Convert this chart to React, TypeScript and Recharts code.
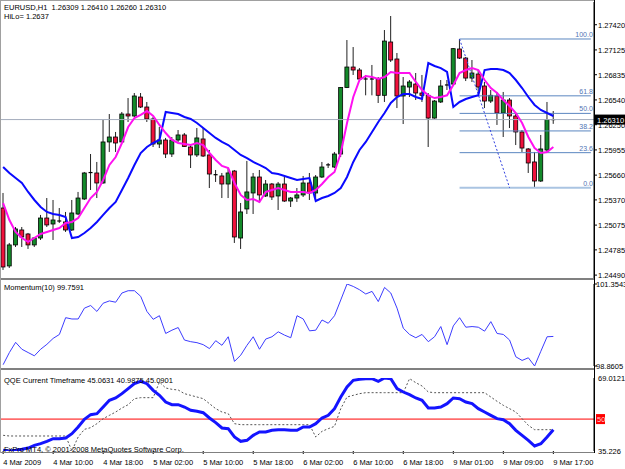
import React from 'react';
import { ComposedChart, Bar, Line, XAxis, YAxis, ReferenceLine } from 'recharts';

const FONT = '"Liberation Sans", Arial, sans-serif';

// time labels, one every 8 bars
const timeLabels = ['4 Mar 2009', '4 Mar 10:00', '4 Mar 18:00', '5 Mar 02:00', '5 Mar 10:00', '5 Mar 18:00', '6 Mar 02:00', '6 Mar 10:00', '6 Mar 18:00', '9 Mar 01:00', '9 Mar 09:00', '9 Mar 17:00'];

// EURUSD H1 candles
const opens = [1.25275, 1.24597, 1.24843, 1.25018, 1.24971, 1.24843, 1.24924, 1.25158, 1.25088, 1.25123, 1.25112, 1.25018, 1.25205, 1.25381, 1.25685, 1.25685, 1.25568, 1.26048, 1.26106, 1.26048, 1.26375, 1.26352, 1.26574, 1.26457, 1.26317, 1.26024, 1.26071, 1.25907, 1.26071, 1.26130, 1.25989, 1.25896, 1.26083, 1.25896, 1.25665, 1.25650, 1.25556, 1.25708, 1.24924, 1.25264, 1.25451, 1.25638, 1.25416, 1.25556, 1.25416, 1.25556, 1.25357, 1.25392, 1.25428, 1.25568, 1.25451, 1.25638, 1.25775, 1.25755, 1.25907, 1.26685, 1.26925, 1.26890, 1.26785, 1.26780, 1.26785, 1.26594, 1.27218, 1.27019, 1.26586, 1.26691, 1.26726, 1.26621, 1.26594, 1.26328, 1.26516, 1.26703, 1.26726, 1.27136, 1.27030, 1.26796, 1.26843, 1.26703, 1.26527, 1.26586, 1.26387, 1.26539, 1.26352, 1.26165, 1.25966, 1.25814, 1.25591, 1.25954, 1.26309];
const highs = [1.25451, 1.24866, 1.25053, 1.25053, 1.24983, 1.24936, 1.25194, 1.25392, 1.25369, 1.25275, 1.25229, 1.25369, 1.25463, 1.25697, 1.25907, 1.25814, 1.26305, 1.26375, 1.26165, 1.26399, 1.26562, 1.26621, 1.26621, 1.26516, 1.26340, 1.26223, 1.26095, 1.26106, 1.26188, 1.26153, 1.26012, 1.26211, 1.26211, 1.25954, 1.25720, 1.25685, 1.25743, 1.25720, 1.25334, 1.25826, 1.25685, 1.25720, 1.25603, 1.25568, 1.25580, 1.25638, 1.25404, 1.25509, 1.25650, 1.25685, 1.25661, 1.25814, 1.25802, 1.25931, 1.26691, 1.27241, 1.27159, 1.26913, 1.26832, 1.26949, 1.26808, 1.27358, 1.27522, 1.27089, 1.26808, 1.26773, 1.26855, 1.26832, 1.26621, 1.26539, 1.26773, 1.26773, 1.27147, 1.27253, 1.27042, 1.27007, 1.26890, 1.26750, 1.26656, 1.26633, 1.26633, 1.26562, 1.26375, 1.26188, 1.25977, 1.25931, 1.26130, 1.26516, 1.26410];
const lows = [1.24550, 1.24573, 1.24819, 1.24819, 1.24796, 1.24819, 1.24901, 1.25053, 1.24901, 1.25100, 1.24995, 1.25006, 1.25194, 1.25369, 1.25486, 1.25392, 1.25560, 1.25931, 1.25931, 1.26036, 1.26282, 1.26340, 1.26445, 1.26282, 1.25989, 1.25977, 1.25860, 1.25872, 1.26048, 1.25989, 1.25743, 1.25872, 1.25872, 1.25509, 1.25580, 1.25392, 1.25392, 1.24866, 1.24796, 1.25205, 1.25205, 1.25334, 1.25404, 1.25369, 1.25252, 1.25346, 1.25287, 1.25346, 1.25404, 1.25369, 1.25369, 1.25626, 1.25743, 1.25743, 1.25872, 1.26679, 1.26832, 1.26773, 1.26594, 1.26594, 1.26504, 1.26516, 1.26984, 1.26445, 1.26258, 1.26574, 1.26539, 1.26516, 1.25989, 1.26320, 1.26504, 1.26656, 1.26715, 1.27019, 1.26761, 1.26750, 1.26633, 1.26445, 1.26504, 1.26247, 1.26106, 1.26211, 1.26012, 1.25931, 1.25685, 1.25512, 1.25580, 1.25931, 1.26260];
const closes = [1.24585, 1.24843, 1.25030, 1.24936, 1.24843, 1.24924, 1.25158, 1.25077, 1.25135, 1.25120, 1.25018, 1.25217, 1.25392, 1.25685, 1.25690, 1.25568, 1.26048, 1.26106, 1.26036, 1.26375, 1.26352, 1.26586, 1.26457, 1.26317, 1.26024, 1.26071, 1.25907, 1.26071, 1.26130, 1.25995, 1.25896, 1.26095, 1.25884, 1.25673, 1.25660, 1.25556, 1.25685, 1.24936, 1.25229, 1.25463, 1.25638, 1.25428, 1.25556, 1.25404, 1.25556, 1.25357, 1.25392, 1.25428, 1.25568, 1.25451, 1.25638, 1.25755, 1.25780, 1.25907, 1.26685, 1.26925, 1.26890, 1.26785, 1.26780, 1.26785, 1.26594, 1.27229, 1.27007, 1.26586, 1.26703, 1.26750, 1.26621, 1.26594, 1.26328, 1.26527, 1.26703, 1.26715, 1.27140, 1.27030, 1.26796, 1.26855, 1.26691, 1.26527, 1.26594, 1.26387, 1.26539, 1.26352, 1.26165, 1.25977, 1.25802, 1.25591, 1.25966, 1.26309, 1.26310];

// magenta moving average
const maLine = [1.25334, 1.25135, 1.24995, 1.24924, 1.24878, 1.24924, 1.24971, 1.24995, 1.25018, 1.25041, 1.25100, 1.25112, 1.25158, 1.25275, 1.25392, 1.25463, 1.25603, 1.25779, 1.25872, 1.26036, 1.26223, 1.26328, 1.26364, 1.26410, 1.26352, 1.26247, 1.26153, 1.26071, 1.26036, 1.26024, 1.26012, 1.26036, 1.26012, 1.25919, 1.25837, 1.25767, 1.25743, 1.25568, 1.25428, 1.25369, 1.25381, 1.25346, 1.25463, 1.25486, 1.25509, 1.25486, 1.25463, 1.25463, 1.25463, 1.25451, 1.25486, 1.25556, 1.25638, 1.25697, 1.25919, 1.26270, 1.26574, 1.26773, 1.26820, 1.26808, 1.26785, 1.26808, 1.26867, 1.26855, 1.26855, 1.26855, 1.26750, 1.26656, 1.26594, 1.26562, 1.26574, 1.26594, 1.26715, 1.26855, 1.26890, 1.26913, 1.26890, 1.26773, 1.26679, 1.26621, 1.26539, 1.26469, 1.26387, 1.26270, 1.26106, 1.25977, 1.25919, 1.25931, 1.25989];

// blue HiLo activator
const hiloLine = [1.25755, 1.25685, 1.25626, 1.25568, 1.25463, 1.25369, 1.25287, 1.25229, 1.25205, 1.25194, 1.25170, 1.24924, 1.24936, 1.24983, 1.25041, 1.25112, 1.25194, 1.25275, 1.25346, 1.25486, 1.25626, 1.25779, 1.25919, 1.25989, 1.26036, 1.26071, 1.26399, 1.26387, 1.26375, 1.26340, 1.26317, 1.26270, 1.26211, 1.26153, 1.26095, 1.26048, 1.26012, 1.25954, 1.25896, 1.25860, 1.25814, 1.25779, 1.25743, 1.25685, 1.25673, 1.25650, 1.25626, 1.25603, 1.25615, 1.25626, 1.25357, 1.25392, 1.25416, 1.25451, 1.25509, 1.25638, 1.25814, 1.25954, 1.26048, 1.26165, 1.26282, 1.26387, 1.26504, 1.26574, 1.26609, 1.26609, 1.26574, 1.26551, 1.26972, 1.26937, 1.26913, 1.26867, 1.26457, 1.26516, 1.26551, 1.26574, 1.26594, 1.26890, 1.26902, 1.26902, 1.26890, 1.26855, 1.26773, 1.26679, 1.26574, 1.26481, 1.26422, 1.26387, 1.26352];

// Momentum(10)
const momentum = [98.90, 99.27, 99.58, 99.37, 99.27, 99.17, 99.37, 99.52, 99.70, 99.82, 100.33, 100.29, 100.29, 100.62, 100.70, 100.52, 100.77, 100.84, 100.80, 101.08, 101.15, 101.15, 100.98, 100.52, 100.28, 100.39, 99.85, 99.95, 100.03, 99.65, 99.60, 99.57, 99.51, 99.39, 99.63, 99.49, 99.75, 99.00, 99.19, 99.49, 99.75, 99.37, 99.68, 99.75, 99.90, 99.80, 99.72, 100.39, 100.29, 99.93, 99.95, 100.26, 100.16, 100.39, 100.87, 101.3543, 101.28, 101.18, 101.05, 101.13, 100.82, 101.25, 101.08, 100.62, 100.01, 99.82, 99.72, 99.82, 99.60, 99.75, 100.06, 99.51, 100.08, 100.33, 100.04, 100.06, 100.04, 99.92, 100.21, 99.85, 99.82, 99.65, 99.14, 99.03, 99.11, 98.8605, 99.31, 99.75, 99.7591];

// QQE
const qqeMain = [35.53, 35.226, 35.53, 36.00, 36.61, 37.85, 38.62, 39.70, 40.93, 40.93, 41.24, 43.25, 46.33, 49.88, 52.04, 52.50, 55.59, 58.67, 59.76, 61.76, 64.08, 66.39, 67.47, 66.39, 63.30, 60.99, 57.90, 56.67, 56.67, 55.59, 54.05, 53.58, 52.97, 50.50, 48.34, 45.87, 45.56, 41.70, 39.70, 40.16, 42.48, 44.02, 44.02, 44.79, 45.10, 45.10, 44.79, 44.79, 46.33, 46.33, 47.88, 50.50, 51.73, 54.82, 60.22, 64.85, 67.93, 68.39, 68.70, 68.70, 67.47, 69.0121, 68.70, 64.08, 62.53, 61.30, 59.76, 58.67, 55.13, 55.13, 55.59, 57.13, 59.76, 59.45, 57.90, 57.13, 54.82, 53.27, 51.73, 50.19, 49.73, 47.88, 44.79, 42.48, 40.16, 37.54, 38.62, 41.70, 45.06];
const qqeTrail = [42.48, 42.17, 42.17, 42.17, 42.17, 42.17, 42.17, 42.17, 42.17, 42.17, 42.17, 35.30, 41.70, 45.25, 46.03, 47.88, 50.19, 51.73, 53.27, 55.13, 56.67, 59.45, 59.91, 59.91, 59.91, 67.16, 64.38, 63.77, 63.46, 61.76, 60.99, 60.22, 59.45, 57.13, 54.82, 53.27, 52.50, 47.88, 47.41, 47.41, 47.41, 47.41, 47.41, 47.41, 47.41, 47.41, 47.41, 47.41, 47.41, 47.41, 41.70, 44.33, 45.56, 46.64, 54.82, 60.22, 60.99, 61.76, 62.22, 62.22, 62.22, 62.22, 62.22, 62.22, 62.22, 68.70, 66.85, 65.31, 62.53, 62.22, 62.22, 62.22, 62.22, 62.22, 62.22, 62.22, 62.22, 62.22, 60.22, 58.21, 56.36, 54.82, 53.27, 50.19, 47.10, 45.09, 45.09, 45.09, 45.09];

// axes
const priceTicks = [1.2742, 1.27125, 1.26835, 1.2654, 1.2625, 1.25955, 1.2566, 1.2537, 1.25075, 1.24785, 1.2449];
const priceDomain = [1.24456, 1.27686];
const momDomain = [98.8605, 101.3543];
const qqeDomain = [35.226, 69.0121];

// fibonacci
const fibLow = 1.25512;
const fibHigh = 1.27253;
const fibRatios = [100, 61.8, 50, 38.2, 23.6, 0];
const fibStartBar = 73;
const fibDiagEndBar = 81;

const totalSlots = 95;

const rows = Array.from({ length: totalSlots }, (_, i) => {
  if (i >= opens.length) return { i };
  return {
    i,
    open: opens[i],
    high: highs[i],
    low: lows[i],
    close: closes[i],
    range: [lows[i], highs[i]],
    ma: maLine[i],
    hilo: hiloLine[i],
    mom: momentum[i],
    qqe: qqeMain[i],
    trail: qqeTrail[i],
    fibDiag: i === fibStartBar ? fibHigh : i === fibDiagEndBar ? fibLow : null,
  };
});

const lastClose = closes[closes.length - 1];

const Candle = (props: any) => {
  const { x, y, width, height, payload } = props;
  if (!payload || payload.open == null) return null;
  const { open, close, high, low } = payload;
  const cx = x + width / 2;
  const span = high - low;
  const toY = (v: number) => (span === 0 ? y : y + ((high - v) / span) * height);
  const yo = toY(open);
  const yc = toY(close);
  const top = Math.min(yo, yc);
  const h = Math.abs(yc - yo);
  const up = close > open;
  return (
    <g>
      <line x1={cx} x2={cx} y1={y} y2={y + height} stroke="#222" strokeWidth={1} />
      {h < 1.2 ? (
        <line x1={cx - 2} x2={cx + 2} y1={top} y2={top} stroke="#000" strokeWidth={1.2} />
      ) : (
        <rect x={cx - 2} y={top} width={4} height={h} fill={up ? '#138a2a' : '#f0123c'} stroke="#000" strokeWidth={0.8} />
      )}
    </g>
  );
};

const RightTick = (props: any) => {
  const { x, y, payload, digits, gap = 4 } = props;
  return (
    <g>
      <line x1={x} x2={x + 3} y1={y} y2={y} stroke="#000" />
      <text x={x + gap} y={y + 3} fontSize={7.5} fontFamily={FONT} fill="#000">{payload.value.toFixed(digits)}</text>
    </g>
  );
};

const QqeTick = (props: any) => {
  const { x, y, payload } = props;
  if (payload.value === 50) {
    return (
      <g>
        <rect x={x + 2} y={y - 5} width={9} height={10} fill="#ff0000" />
        <text x={x + 3} y={y + 3} fontSize={7.5} fontFamily={FONT} fill="#ffd0d0">50</text>
      </g>
    );
  }
  const txt = payload.value === qqeDomain[1] ? '69.0121' : '35.226';
  return (
    <text x={x + 4} y={y + 3} fontSize={7.5} fontFamily={FONT} fill="#000">{txt}</text>
  );
};

const TimeTick = (props: any) => {
  const { x, y, payload } = props;
  const label = timeLabels[payload.value / 8];
  if (!label) return null;
  return (
    <g>
      <line x1={x} x2={x} y1={y} y2={y + 3} stroke="#000" />
      <text x={x} y={y + 14} fontSize={7.5} fontFamily={FONT} fill="#000">{label}</text>
    </g>
  );
};

const PriceBox = (props: any) => {
  const vb = props.viewBox || {};
  const x = vb.x + vb.width;
  return (
    <g>
      <rect x={x + 1} y={vb.y - 5} width={30} height={10} fill="#000" />
      <text x={x + 3} y={vb.y + 3} fontSize={7.5} fontFamily={FONT} fill="#fff">{lastClose.toFixed(5)}</text>
    </g>
  );
};

const fibLabel = (text: string) => (props: any) => {
  const vb = props.viewBox || {};
  return (
    <text x={vb.x + vb.width + 2} y={vb.y - 2} fontSize={7} fontFamily={FONT} fill="#4f74b4" textAnchor="end">{text}</text>
  );
};

const hline = (top: number, color: string, h = 1) => (
  <div style={{ position: 'absolute', left: 0, top, width: 595, height: h, background: color }} />
);

const textStyle: React.CSSProperties = { position: 'absolute', fontFamily: FONT, fontSize: 7.5, color: '#000', whiteSpace: 'pre', lineHeight: '9px' };

export default function App() {
  return (
    <div style={{ position: 'fixed', left: 0, top: 0, width: 625, height: 469, background: '#fff', overflow: 'hidden' }}>
      {/* main price pane */}
      <div style={{ position: 'absolute', left: 0, top: 0 }}>
        <ComposedChart width={625} height={279} data={rows} margin={{ top: 2, right: 0, bottom: 1, left: 0 }} barCategoryGap={0}>
          <XAxis dataKey="i" type="category" scale="band" hide />
          <YAxis orientation="right" width={31} type="number" domain={priceDomain} ticks={priceTicks} interval={0} allowDataOverflow
            tickSize={0} tickMargin={0} axisLine={{ stroke: '#000' }} tick={<RightTick digits={5} />} />
          <ReferenceLine y={lastClose} stroke="#a4acbc" label={<PriceBox />} />
          {fibRatios.map((r) => {
            const lvl = fibLow + (r / 100) * (fibHigh - fibLow);
            return (
              <ReferenceLine key={r} segment={[{ x: fibStartBar, y: lvl }, { x: totalSlots - 1, y: lvl }]}
                stroke={r === 0 ? '#aac4e2' : '#5b86c0'} strokeWidth={r === 0 ? 2 : 1} label={fibLabel(r.toFixed(1))} />
            );
          })}
          <Bar dataKey="range" shape={<Candle />} isAnimationActive={false} />
          <Line dataKey="fibDiag" connectNulls stroke="#3040e0" strokeDasharray="2 2" strokeWidth={1} dot={false} isAnimationActive={false} />
          <Line dataKey="hilo" type="linear" stroke="#0a0aff" strokeWidth={2} dot={false} isAnimationActive={false} />
          <Line dataKey="ma" type="linear" stroke="#ff10f0" strokeWidth={2} dot={false} isAnimationActive={false} />
        </ComposedChart>
      </div>

      {/* momentum pane */}
      <div style={{ position: 'absolute', left: 0, top: 280 }}>
        <ComposedChart width={625} height={92} data={rows} margin={{ top: 4, right: 0, bottom: 6, left: 0 }}>
          <XAxis dataKey="i" type="category" scale="band" hide />
          <YAxis orientation="right" width={31} type="number" domain={momDomain} ticks={[momDomain[1], momDomain[0]]} interval={0} allowDataOverflow
            tickSize={0} tickMargin={0} axisLine={{ stroke: '#000' }} tick={<RightTick digits={4} gap={2} />} />
          <Line dataKey="mom" type="linear" stroke="#3c3cff" strokeWidth={1} dot={false} isAnimationActive={false} />
        </ComposedChart>
      </div>

      {/* QQE pane */}
      <div style={{ position: 'absolute', left: 0, top: 370 }}>
        <ComposedChart width={625} height={99} data={rows} margin={{ top: 8, right: 0, bottom: 0, left: 0 }}>
          <XAxis dataKey="i" type="category" scale="band" height={18} interval={7} tickSize={0} tickMargin={0} axisLine={false} tick={<TimeTick />} />
          <YAxis orientation="right" width={31} type="number" domain={qqeDomain} ticks={[qqeDomain[0], 50, qqeDomain[1]]} interval={0} allowDataOverflow
            tickSize={0} tickMargin={0} axisLine={{ stroke: '#000' }} tick={<QqeTick />} />
          <ReferenceLine y={50} stroke="#ff0000" strokeWidth={1} />
          <Line dataKey="trail" type="linear" stroke="#555" strokeDasharray="2 2" strokeWidth={1} dot={false} isAnimationActive={false} />
          <Line dataKey="qqe" type="linear" stroke="#1414ff" strokeWidth={3} dot={false} isAnimationActive={false} />
        </ComposedChart>
      </div>

      {/* frames */}
      {hline(0, '#a0a0a0')}
      {hline(278, '#808080', 2)}
      {hline(368, '#808080', 2)}
      {hline(452, '#808080', 1)}
      <div style={{ position: 'absolute', left: 0, top: 0, width: 1, height: 453, background: '#a0a0a0' }} />
      <div style={{ position: 'absolute', left: 594, top: 0, width: 1, height: 453, background: '#000' }} />

      {/* labels */}
      <div style={{ ...textStyle, left: 4, top: 3 }}>{'EURUSD,H1  1.26309 1.26410 1.26260 1.26310'}</div>
      <div style={{ ...textStyle, left: 4, top: 12 }}>HiLo= 1.2637</div>
      <div style={{ ...textStyle, left: 4, top: 283 }}>Momentum(10) 99.7591</div>
      <div style={{ ...textStyle, left: 4, top: 376 }}>QQE Current Timeframe 45.0631 40.9875 45.0901</div>
      <div style={{ ...textStyle, left: 4, top: 445 }}>FxPro MT4, © 2001-2008 MetaQuotes Software Corp.</div>
    </div>
  );
}
